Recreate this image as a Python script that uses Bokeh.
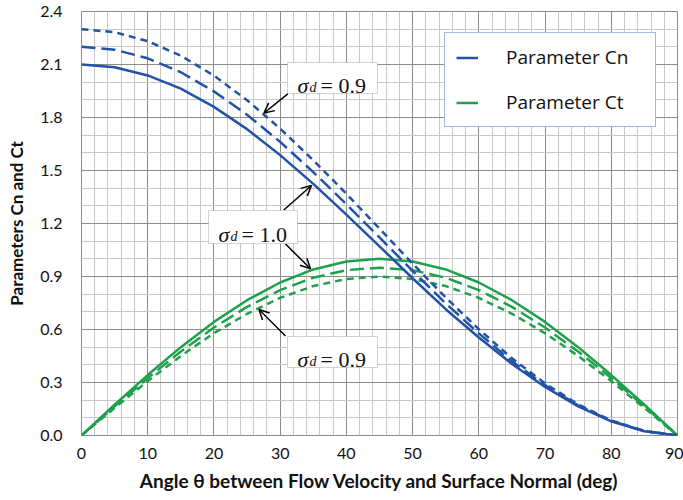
from bokeh.plotting import figure
from bokeh.models import (Range1d, FixedTicker, Legend, LegendItem, BoxAnnotation,
                          Label, Arrow, OpenHead, PrintfTickFormatter)
from bokeh.embed import file_html
from bokeh.resources import INLINE

# ---------------- data ----------------
theta = [0, 5, 10, 15, 20, 25, 30, 35, 40, 45, 50, 55, 60, 65, 70, 75, 80, 85, 90]

cn_s10 = [2.100, 2.084, 2.038, 1.963, 1.860, 1.734, 1.587, 1.424, 1.250, 1.071,
          0.890, 0.715, 0.555, 0.405, 0.275, 0.165, 0.080, 0.024, 0.000]
cn_s095 = [2.200, 2.184, 2.135, 2.056, 1.948, 1.816, 1.662, 1.491, 1.309, 1.121,
           0.932, 0.748, 0.578, 0.420, 0.285, 0.170, 0.082, 0.025, 0.000]
cn_s09 = [2.300, 2.283, 2.232, 2.150, 2.037, 1.898, 1.737, 1.558, 1.368, 1.171,
          0.973, 0.781, 0.602, 0.437, 0.295, 0.176, 0.085, 0.026, 0.000]

ct_s10 = [0.000, 0.174, 0.342, 0.500, 0.643, 0.766, 0.866, 0.940, 0.985, 1.000,
          0.985, 0.940, 0.866, 0.766, 0.643, 0.500, 0.342, 0.174, 0.000]
ct_s095 = [0.000, 0.165, 0.325, 0.475, 0.611, 0.728, 0.823, 0.893, 0.936, 0.950,
           0.936, 0.893, 0.823, 0.728, 0.611, 0.475, 0.325, 0.165, 0.000]
ct_s09 = [0.000, 0.156, 0.308, 0.450, 0.579, 0.689, 0.779, 0.846, 0.886, 0.900,
          0.886, 0.846, 0.779, 0.689, 0.579, 0.450, 0.308, 0.156, 0.000]

x_ticks = [0, 10, 20, 30, 40, 50, 60, 70, 80, 90]
x_minor = [v for v in range(0, 91, 2) if v % 10 != 0]
y_ticks = [0.0, 0.3, 0.6, 0.9, 1.2, 1.5, 1.8, 2.1, 2.4]
y_minor = [0.1, 0.2, 0.4, 0.5, 0.7, 0.8, 1.0, 1.1, 1.3, 1.4, 1.6, 1.7, 1.9, 2.0, 2.2, 2.3]

legend_labels = ["Parameter Cn", "Parameter Ct"]
sigma_values = ["0.9", "1.0", "0.9"]

x_title = "Angle \u03b8 between Flow Velocity and Surface Normal (deg)"
y_title = "Parameters Cn and Ct"

# ---------------- styling ----------------
BLUE = "#2253a8"
GREEN = "#1fa04b"
LW = 2.5
LONG_DASH = "14 6"
SHORT_DASH = "7 5"

W, H = 683, 500
BL, BR, BT, BB = 81, 6, 11, 65
OFFX, OFFY = 0, 0   # where the figure's corner lands in the photographed picture

p = figure(width=W, height=H, x_range=Range1d(0, 90), y_range=Range1d(0, 2.4),
           output_backend="svg", toolbar_location=None,
           min_border_left=BL, min_border_right=BR, min_border_top=BT, min_border_bottom=BB)
p.background_fill_color = "white"
p.border_fill_color = "white"
p.outline_line_color = "#8c8c8c"
p.outline_line_width = 1

p.xaxis.ticker = FixedTicker(ticks=x_ticks, minor_ticks=x_minor)
p.yaxis.ticker = FixedTicker(ticks=y_ticks, minor_ticks=y_minor)
p.yaxis.formatter = PrintfTickFormatter(format="%.1f")
p.xgrid.ticker = FixedTicker(ticks=x_ticks, minor_ticks=x_minor)
p.ygrid.ticker = FixedTicker(ticks=y_ticks, minor_ticks=y_minor)
for g in (p.xgrid, p.ygrid):
    g.grid_line_color = "#8c8c8c"
    g.grid_line_width = 1
    g.minor_grid_line_color = "#c8c8c8"
    g.minor_grid_line_width = 1

for ax in (p.xaxis, p.yaxis):
    ax.axis_line_color = None
    ax.major_tick_line_color = None
    ax.minor_tick_line_color = None
    ax.major_tick_out = 0
    ax.major_tick_in = 0
    ax.minor_tick_out = 0
    ax.minor_tick_in = 0
    ax.major_label_text_font = "Lato"
    ax.major_label_text_font_size = "16px"
    ax.major_label_text_color = "#111111"
    ax.axis_label_text_font = "Lato"
    ax.axis_label_text_font_style = "bold"
    ax.axis_label_text_color = "#111111"

p.xaxis.axis_label = x_title
p.yaxis.axis_label = y_title
p.xaxis.axis_label_text_font_size = "19px"
p.yaxis.axis_label_text_font_size = "17px"
p.xaxis.major_label_standoff = 12
p.yaxis.major_label_standoff = 19
p.xaxis.axis_label_standoff = 7
p.yaxis.axis_label_standoff = 10

# ---------------- curves ----------------
g1 = p.line(theta, ct_s10, line_color=GREEN, line_width=LW)
p.line(theta, ct_s095, line_color=GREEN, line_width=LW, line_dash=LONG_DASH)
p.line(theta, ct_s09, line_color=GREEN, line_width=LW, line_dash=SHORT_DASH)
b1 = p.line(theta, cn_s10, line_color=BLUE, line_width=LW)
p.line(theta, cn_s095, line_color=BLUE, line_width=LW, line_dash=LONG_DASH)
p.line(theta, cn_s09, line_color=BLUE, line_width=LW, line_dash=SHORT_DASH)

# picture-pixel helpers for placing annotations
FX0 = OFFX + BL
FY0 = OFFY + H - BB
FW = W - BL - BR
FH = H - BT - BB
SX, SY = FW / 90.0, FH / 2.4


def dx(px):
    return (px - FX0) / SX


def dy(py):
    return (FY0 - py) / SY


leg_left, leg_bottom = 444, 127
legend = Legend(items=[LegendItem(label=legend_labels[0], renderers=[b1]),
                       LegendItem(label=legend_labels[1], renderers=[g1])],
                location=(leg_left - FX0, FY0 - leg_bottom))
legend.margin = 0
legend.padding = 11
legend.spacing = 19
legend.glyph_width = 22
legend.glyph_height = 25
legend.label_height = 25
legend.label_standoff = 28
legend.label_width = 138
legend.label_text_font = "Open Sans"
legend.label_text_font_size = "19px"
legend.label_text_color = "#111111"
legend.border_line_color = "#4472c4"
legend.border_line_width = 1
legend.background_fill_color = "white"
legend.background_fill_alpha = 1.0
p.add_layout(legend)

# ---------------- annotation boxes ----------------
boxes = [(287, 62, 377, 93), (208, 210, 297, 243), (287, 336, 377, 367)]
for (l, t, r, b), val in zip(boxes, sigma_values):
    p.add_layout(BoxAnnotation(left=dx(l), right=dx(r), top=dy(t), bottom=dy(b),
                               fill_color="white", fill_alpha=1.0,
                               line_color="#707070", line_width=1, level="annotation"))
    base = (t + b) / 2.0 + 7.5
    common = dict(text_font="Liberation Serif", text_baseline="alphabetic",
                  text_align="left", text_color="#111111", level="annotation")
    p.add_layout(Label(x=dx(l + 10), y=dy(base), text="\u03c3", text_font_size="22px",
                       text_font_style="italic", **common))
    p.add_layout(Label(x=dx(l + 22), y=dy(base + 1.5), text="d", text_font_size="14px",
                       text_font_style="italic", **common))
    p.add_layout(Label(x=dx(l + 33), y=dy(base), text="= " + val, text_font_size="22px",
                       **common))

arrows = [((287.3, 93.3), (263.5, 112.5)),
          ((283.3, 209.5), (311.0, 185.0)),
          ((285.0, 243.5), (310.0, 268.3)),
          ((285.0, 335.5), (258.5, 309.0))]
for (s, e) in arrows:
    p.add_layout(Arrow(end=OpenHead(size=10, line_width=1.5, line_color="black"),
                       x_start=dx(s[0]), y_start=dy(s[1]), x_end=dx(e[0]), y_end=dy(e[1]),
                       line_color="black", line_width=1.5))

open("out.html", "w").write(file_html(p, INLINE))
